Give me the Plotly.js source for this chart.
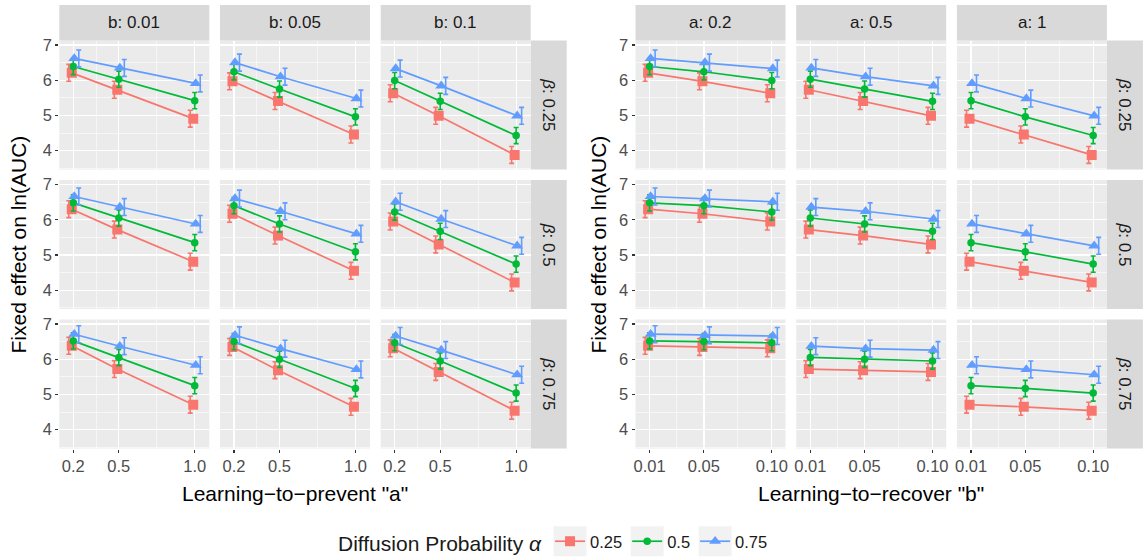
<!DOCTYPE html>
<html>
<head>
<meta charset="utf-8">
<script src="https://cdn.plot.ly/plotly-3.0.1.min.js"></script>
<style>html,body{margin:0;padding:0;background:#fff;}#chart{width:1143px;height:557px;}</style>
</head>
<body>
<div id="chart"></div>
<script>
// ---------------- DATA ----------------
const alphaLevels = ['0.25', '0.5', '0.75'];
const betaLevels = ['0.25', '0.5', '0.75'];
const aValues = [0.2, 0.5, 1.0];
const bValues = [0.01, 0.05, 0.10];
const aTickText = ['0.2', '0.5', '1.0'];
const bTickText = ['0.01', '0.05', '0.10'];
const bStripLabels = ['b: 0.01', 'b: 0.05', 'b: 0.1'];
const aStripLabels = ['a: 0.2', 'a: 0.5', 'a: 1'];
const betaStripLabels = ['<i>β</i>: 0.25', '<i>β</i>: 0.5', '<i>β</i>: 0.75'];
const yTickVals = [4, 5, 6, 7];
const yMinorVals = [3.5, 4.5, 5.5, 6.5];
const aMinorVals = [0.35, 0.75];
const bMinorVals = [0.03, 0.075];

// estimates indexed [beta][a][b]
const est025 = [
  [[6.21, 5.97, 5.63], [5.73, 5.41, 4.99], [4.91, 4.46, 3.88]],
  [[6.30, 6.17, 5.95], [5.72, 5.55, 5.30], [4.81, 4.55, 4.22]],
  [[6.38, 6.35, 6.31], [5.72, 5.69, 5.64], [4.71, 4.65, 4.54]]
];
const est05 = [
  [[6.39, 6.24, 5.99], [6.03, 5.75, 5.40], [5.42, 4.96, 4.43]],
  [[6.48, 6.40, 6.22], [6.05, 5.88, 5.67], [5.35, 5.09, 4.74]],
  [[6.52, 6.50, 6.47], [6.05, 6.00, 5.95], [5.25, 5.17, 5.04]]
];
const est075 = [
  [[6.62, 6.50, 6.33], [6.35, 6.10, 5.84], [5.91, 5.48, 4.99]],
  [[6.66, 6.60, 6.51], [6.36, 6.24, 6.02], [5.88, 5.60, 5.26]],
  [[6.71, 6.68, 6.66], [6.37, 6.30, 6.26], [5.83, 5.71, 5.56]]
];
const ciHalf = [0.24, 0.23, 0.24];

// ---------------- STYLE / GEOMETRY ----------------
const estimates = [est025, est05, est075];
const colors = ['#F8766D', '#00BA38', '#619CFF'];
const symbols = ['square', 'circle', 'triangle-up'];
const msizes = [10, 7.5, 10.5];
const W = 1143, H = 557;
const panelCols = [
  [[59.3, 209.3], [220, 370], [380.7, 530.7]],
  [[635.5, 785.5], [796.2, 946.2], [956.9, 1106.9]]
];
const rowsPx = [[40.5, 169.5], [180, 309], [319.5, 448.5]];
const xRanges = [[0.108, 1.096], [-0.0004, 0.1101]];
const yRange = [3.466, 7.128];
const pointDodgePx = [-1.5, 0, 1];
const errDodgePx = [-4.5, 0, 5.5];
const FONT = 'Liberation Sans, Arial, sans-serif';
const TICK_SIZE = 16.5, STRIP_SIZE = 17, TITLE_SIZE = 21, LEG_SIZE = 16.5;

const fx = p => p / W;
const fy = p => 1 - p / H;

const traces = [];
const layout = {
  width: W, height: H,
  margin: {l: 0, r: 0, t: 0, b: 0, autoexpand: false},
  paper_bgcolor: '#FFFFFF',
  plot_bgcolor: '#EBEBEB',
  font: {family: FONT, color: '#4D4D4D'},
  showlegend: true,
  legend: {
    orientation: 'h', x: fx(336), xanchor: 'left', y: fy(543), yanchor: 'middle',
    font: {size: LEG_SIZE, color: '#1A1A1A', family: FONT},
    title: {text: 'Diffusion Probability <i>α</i>', side: 'left', font: {size: TITLE_SIZE, color: '#1A1A1A', family: FONT}},
    bgcolor: 'rgba(0,0,0,0)', itemwidth: 30, tracegroupgap: 0
  },
  shapes: [], annotations: []
};

for (let panel = 0; panel < 2; panel++) {
  const xVals = panel === 0 ? aValues : bValues;
  const pxPerUnit = 150 / (xRanges[panel][1] - xRanges[panel][0]);
  for (let r = 0; r < 3; r++) {
    for (let c = 0; c < 3; c++) {
      const k = panel * 9 + r * 3 + c + 1;
      const xn = 'x' + k, yn = 'y' + k;
      const xa = 'xaxis' + k, ya = 'yaxis' + k;
      const cp = panelCols[panel][c], rp = rowsPx[r];
      const bottom = r === 2, left = c === 0;
      layout[xa] = {
        domain: [fx(cp[0]), fx(cp[1])], anchor: yn, range: xRanges[panel],
        tickvals: xVals, ticktext: panel === 0 ? aTickText : bTickText,
        showticklabels: bottom, ticks: bottom ? 'outside' : '', ticklen: 3, tickwidth: 1.1, tickcolor: '#333333',
        tickfont: {size: TICK_SIZE, color: '#4D4D4D', family: FONT},
        showgrid: true, gridcolor: '#FFFFFF', gridwidth: 1.2, zeroline: false, showline: false,
        minor: {tickvals: panel === 0 ? aMinorVals : bMinorVals, showgrid: true, gridcolor: '#FFFFFF', gridwidth: 0.55, ticks: ''},
        fixedrange: true
      };
      layout[ya] = {
        domain: [fy(rp[1]), fy(rp[0])], anchor: xn, range: yRange,
        tickvals: yTickVals, showticklabels: left, ticks: left ? 'outside' : '', ticklen: 3, tickwidth: 1.1, tickcolor: '#333333',
        tickfont: {size: TICK_SIZE, color: '#4D4D4D', family: FONT},
        showgrid: true, gridcolor: '#FFFFFF', gridwidth: 1.2, zeroline: false, showline: false,
        minor: {tickvals: yMinorVals, showgrid: true, gridcolor: '#FFFFFF', gridwidth: 0.55, ticks: ''},
        fixedrange: true
      };
      for (let al = 0; al < 3; al++) {
        const ys = xVals.map((_, i) => panel === 0 ? estimates[al][r][i][c] : estimates[al][r][c][i]);
        const ptsX = xVals.map(v => v + pointDodgePx[al] / pxPerUnit);
        const errX = xVals.map(v => v + errDodgePx[al] / pxPerUnit);
        traces.push({
          type: 'scatter', mode: 'markers', x: errX, y: ys, xaxis: xn, yaxis: yn,
          marker: {opacity: 0, size: 1, color: colors[al]},
          error_y: {type: 'constant', value: ciHalf[al], color: colors[al], thickness: 1.6, width: 2.5},
          showlegend: false, hoverinfo: 'skip'
        });
        traces.push({
          type: 'scatter', mode: 'lines+markers', x: ptsX, y: ys, xaxis: xn, yaxis: yn,
          name: alphaLevels[al], legendgroup: alphaLevels[al],
          showlegend: k === 1,
          line: {color: colors[al], width: 1.7},
          marker: {color: colors[al], symbol: symbols[al], size: msizes[al], line: {width: 0}}
        });
      }
      if (r === 0) {
        layout.shapes.push({type: 'rect', xref: 'paper', yref: 'paper', x0: fx(cp[0]), x1: fx(cp[1]), y0: fy(rp[0]), y1: fy(5), fillcolor: '#D9D9D9', line: {width: 0}, layer: 'below'});
        layout.annotations.push({xref: 'paper', yref: 'paper', x: fx((cp[0] + cp[1]) / 2), y: fy((5 + rp[0]) / 2), text: panel === 0 ? bStripLabels[c] : aStripLabels[c], showarrow: false, xanchor: 'center', yanchor: 'middle', font: {size: STRIP_SIZE, color: '#1A1A1A', family: FONT}});
      }
      if (c === 2) {
        const sx0 = cp[1], sx1 = cp[1] + 36;
        layout.shapes.push({type: 'rect', xref: 'paper', yref: 'paper', x0: fx(sx0), x1: fx(sx1), y0: fy(rp[1]), y1: fy(rp[0]), fillcolor: '#D9D9D9', line: {width: 0}, layer: 'below'});
        layout.annotations.push({xref: 'paper', yref: 'paper', x: fx((sx0 + sx1) / 2), y: fy((rp[0] + rp[1]) / 2), text: betaStripLabels[r], textangle: 90, showarrow: false, xanchor: 'center', yanchor: 'middle', font: {size: STRIP_SIZE, color: '#1A1A1A', family: FONT}});
      }
    }
  }
}

const yTitleY = fy((rowsPx[0][0] + rowsPx[2][1]) / 2);
layout.annotations.push({xref: 'paper', yref: 'paper', x: fx(18), y: yTitleY, text: 'Fixed effect on ln(AUC)', textangle: -90, showarrow: false, xanchor: 'center', yanchor: 'middle', font: {size: TITLE_SIZE, color: '#000000', family: FONT}});
layout.annotations.push({xref: 'paper', yref: 'paper', x: fx(598), y: yTitleY, text: 'Fixed effect on ln(AUC)', textangle: -90, showarrow: false, xanchor: 'center', yanchor: 'middle', font: {size: TITLE_SIZE, color: '#000000', family: FONT}});
layout.annotations.push({xref: 'paper', yref: 'paper', x: fx((panelCols[0][0][0] + panelCols[0][2][1]) / 2), y: fy(493), text: 'Learning\u2212to\u2212prevent "a"', showarrow: false, xanchor: 'center', yanchor: 'middle', font: {size: TITLE_SIZE, color: '#000000', family: FONT}});
layout.annotations.push({xref: 'paper', yref: 'paper', x: fx((panelCols[1][0][0] + panelCols[1][2][1]) / 2), y: fy(493), text: 'Learning\u2212to\u2212recover "b"', showarrow: false, xanchor: 'center', yanchor: 'middle', font: {size: TITLE_SIZE, color: '#000000', family: FONT}});

Plotly.newPlot('chart', traces, layout, {displayModeBar: false, staticPlot: true}).then(gd => {
  // grey key backgrounds behind the legend symbols (ggplot legend.key style), centred on each key's line
  const root = gd.getBoundingClientRect();
  const keyShapes = [];
  gd.querySelectorAll('.legend .traces').forEach(t => {
    const ln = t.querySelector('.legendlines path') || t.querySelector('.legendsymbols');
    if (!ln) return;
    const b = ln.getBoundingClientRect();
    const cx = b.left + b.width / 2 - root.left;
    const cy = b.top + b.height / 2 - root.top;
    keyShapes.push({type: 'rect', xref: 'paper', yref: 'paper', x0: fx(cx - 16.5), x1: fx(cx + 16.5), y0: fy(cy + 15), y1: fy(cy - 15), fillcolor: '#F2F2F2', line: {width: 0}, layer: 'below'});
  });
  return Plotly.relayout(gd, {shapes: layout.shapes.concat(keyShapes)});
});
</script>
</body>
</html>
